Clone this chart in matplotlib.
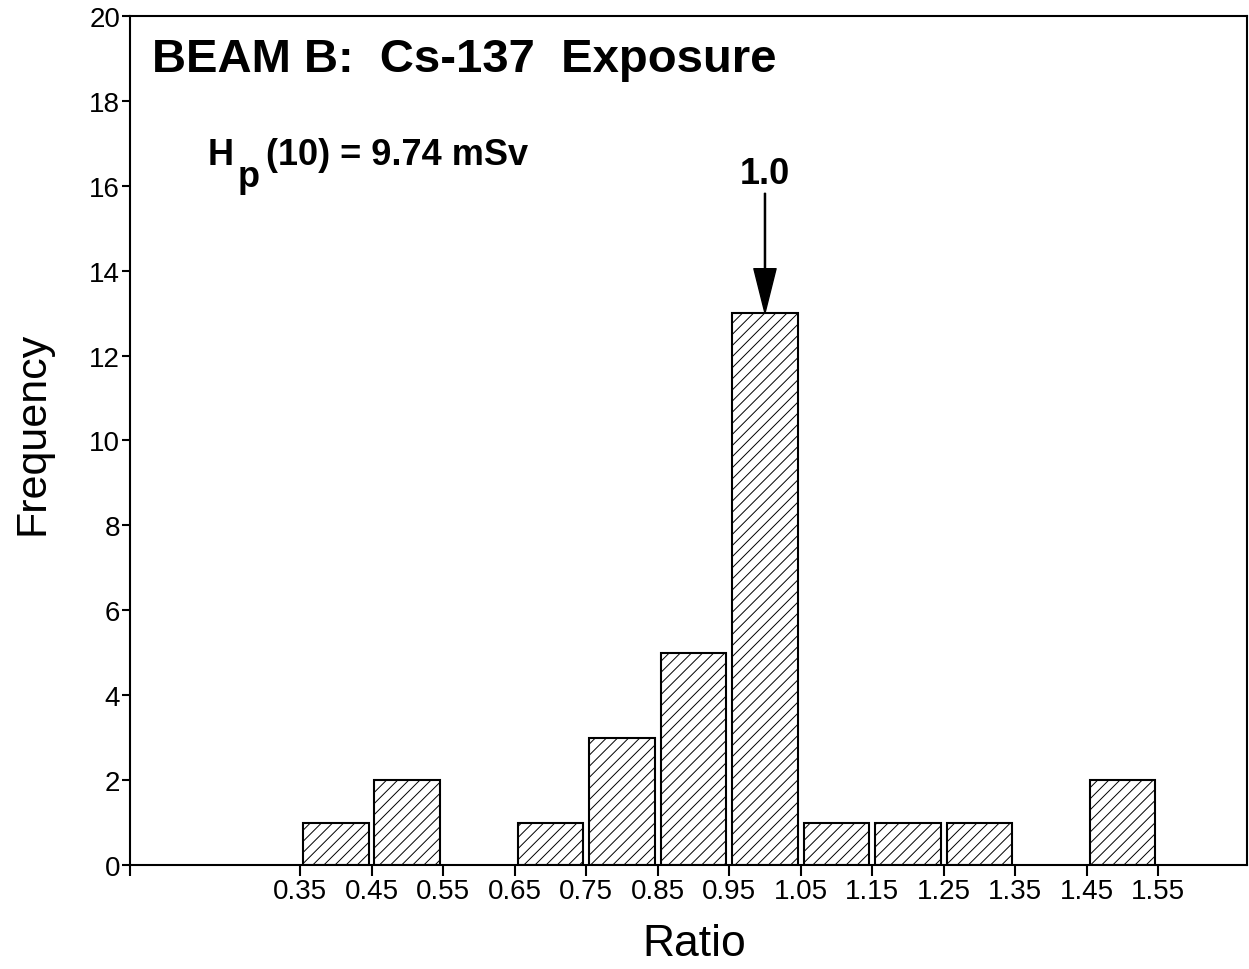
import matplotlib
matplotlib.use("Agg")
from matplotlib import pyplot as plt

# histogram of dose ratios
bin_centers = [0.4, 0.5, 0.6, 0.7, 0.8, 0.9, 1.0, 1.1, 1.2, 1.3, 1.4, 1.5]
counts = [1, 2, 0, 1, 3, 5, 13, 1, 1, 1, 0, 2]
tick_pos = [0.35, 0.45, 0.55, 0.65, 0.75, 0.85, 0.95, 1.05, 1.15, 1.25, 1.35, 1.45, 1.55]
tick_labels = ["0.35", "0.45", "0.55", "0.65", "0.75", "0.85", "0.95",
               "1.05", "1.15", "1.25", "1.35", "1.45", "1.55"]
y_ticks = [0, 2, 4, 6, 8, 10, 12, 14, 16, 18, 20]

plt.rcParams["font.family"] = ["Liberation Sans", "DejaVu Sans"]
plt.rcParams["hatch.linewidth"] = 0.7
plt.rcParams["hatch.color"] = "black"

fig = plt.figure(figsize=(12.49, 9.70), dpi=100)
ax = fig.add_axes([0.104, 0.1072, 0.8944, 0.8753])

xs = [c for c, n in zip(bin_centers, counts) if n > 0]
hs = [n for n in counts if n > 0]
ax.bar(xs, hs, width=0.092, color="white", edgecolor="black",
       linewidth=1.5, hatch="///", zorder=2)

ax.set_xlim(0.112, 1.674)
ax.set_ylim(0, 20)
ax.set_xticks(tick_pos)
ax.set_xticklabels(tick_labels)
ax.set_xticks([0.112], minor=True)
ax.set_yticks(y_ticks)
ax.tick_params(axis="x", which="both", direction="out", length=8, width=1.5,
               labelsize=20, pad=1)
ax.tick_params(axis="y", direction="out", length=6, width=1.5,
               labelsize=20, pad=1)
for s in ax.spines.values():
    s.set_linewidth(1.5)

ax.set_xlabel("Ratio", fontsize=32)
ax.xaxis.set_label_coords(0.505, -0.093)
ax.xaxis.label.set_va("center")
ax.set_ylabel("Frequency", fontsize=31)
ax.yaxis.set_label_coords(-0.087, 0.51)
ax.yaxis.label.set_va("center")

ax.text(0.0197, 0.949, "BEAM B:  Cs-137  Exposure", transform=ax.transAxes,
        fontsize=34, fontweight="bold", va="center", ha="left")
ax.text(0.0698, 0.8257, "H", transform=ax.transAxes,
        fontsize=26, fontweight="bold", va="baseline", ha="left")
ax.text(0.0967, 0.7998, "p", transform=ax.transAxes,
        fontsize=26, fontweight="bold", va="baseline", ha="left")
ax.text(0.1217, 0.8257, "(10) = 9.74 mSv", transform=ax.transAxes,
        fontsize=26, fontweight="bold", va="baseline", ha="left")

ax.annotate("1.0", xy=(1.0, 13), xytext=(1.0, 16.3),
            fontsize=26, fontweight="bold", ha="center", va="center",
            arrowprops=dict(facecolor="black", edgecolor="black",
                            width=0.8, headwidth=16, headlength=32,
                            shrink=0.0))

plt.savefig("out.png", dpi=100)
